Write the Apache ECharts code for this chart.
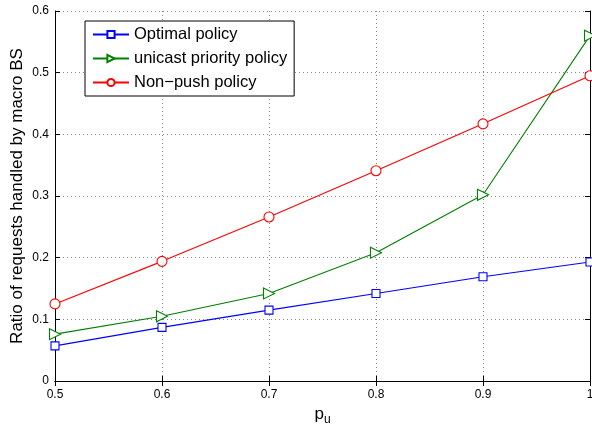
<!DOCTYPE html>
<html><head><meta charset="utf-8">
<script src="https://cdn.jsdelivr.net/npm/echarts@6/dist/echarts.min.js"></script>
<style>html,body{margin:0;padding:0;background:#fff}#c{width:592px;height:424px}</style>
</head><body><div id="c"></div>
<script>
const pu = [0.5, 0.6, 0.7, 0.8, 0.9, 1.0];
const optimal = [0.057, 0.087, 0.115, 0.142, 0.169, 0.193];
const unicast = [0.076, 0.105, 0.142, 0.208, 0.302, 0.560];
const nonpush = [0.125, 0.194, 0.266, 0.341, 0.417, 0.495];
const names = ['Optimal policy', 'unicast priority policy', 'Non\u2212push policy'];

const font = 'Liberation Sans, Arial, Helvetica, sans-serif';
const chart = echarts.init(document.getElementById('c'));
const fmt1 = v => String(+v.toFixed(1));
function mk(name, data, color, symbol, size) {
  return {
    name, type: 'line', data: pu.map((x, i) => [x, data[i]]),
    symbol, symbolSize: size, showSymbol: true,
    lineStyle: {color, width: 1.1},
    itemStyle: {color: '#fff', borderColor: color, borderWidth: 1.1},
    emphasis: {disabled: true}, z: 3
  };
}
const axisCommon = {
  axisLine: {lineStyle: {color: '#000', width: 1}},
  axisTick: {inside: true, length: 5, lineStyle: {color: '#000'}},
};
chart.setOption({
  animation: false,
  textStyle: {fontFamily: font},
  grid: {left: 55, right: 2, top: 11, bottom: 43, outerBoundsMode: 'none', containLabel: false},
  legend: {
    orient: 'vertical', left: 85, top: 21,
    backgroundColor: '#fff', borderColor: '#000', borderWidth: 1,
    padding: [5, 7, 5, 7], itemGap: 7, itemWidth: 36, itemHeight: 9,
    textStyle: {fontSize: 16.5, color: '#000', fontFamily: font},
    data: names
  },
  xAxis: [{
    type: 'value', min: 0.5, max: 1, interval: 0.1, ...axisCommon,
    axisLabel: {formatter: fmt1, color: '#000', fontSize: 12, margin: 8},
    splitLine: {show: true, lineStyle: {color: '#888', type: [1, 3], width: 1}},
    name: '{a|p}{b|u}', nameLocation: 'middle', nameGap: 18,
    nameTextStyle: {rich: {a: {fontSize: 17, color: '#000', fontFamily: font}, b: {fontSize: 12, color: '#000', fontFamily: font, padding: [10, 0, 0, 0]}}}
  }, {
    type: 'value', min: 0.5, max: 1, interval: 0.1, position: 'top', ...axisCommon,
    axisLabel: {show: false}, splitLine: {show: false}
  }],
  yAxis: [{
    type: 'value', min: 0, max: 0.6, interval: 0.1, ...axisCommon,
    axisLabel: {formatter: fmt1, color: '#000', fontSize: 12, margin: 6},
    splitLine: {show: true, lineStyle: {color: '#888', type: [1, 3], width: 1}},
    name: 'Ratio of requests handled by macro BS', nameLocation: 'middle', nameGap: 29,
    nameMoveOverlap: false,
    nameTextStyle: {fontSize: 17, color: '#000', fontFamily: font}
  }, {
    type: 'value', min: 0, max: 0.6, interval: 0.1, position: 'right', ...axisCommon,
    axisLabel: {show: false}, splitLine: {show: false}
  }],
  series: [
    mk(names[0], optimal, '#0000ff', 'rect', 8),
    mk(names[1], unicast, '#008000', 'path://M0,0L10,5L0,10Z', 11),
    mk(names[2], nonpush, '#ff0000', 'circle', 10)
  ]
});
</script></body></html>
